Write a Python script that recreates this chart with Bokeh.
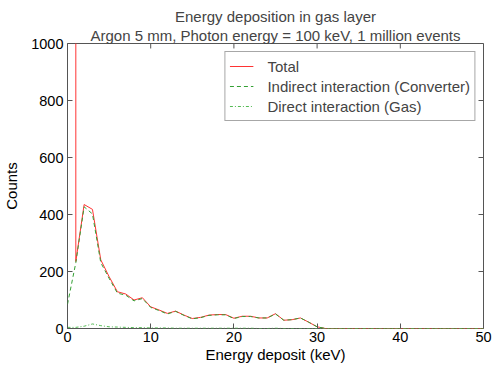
from bokeh.plotting import figure
from bokeh.models import Range1d, Title, FixedTicker
from bokeh.embed import file_html
from bokeh.resources import INLINE

energy = list(range(0, 51))
total = [995000, 235, 435, 418, 241, 182, 129, 121, 100, 108, 76, 65, 53, 61, 47, 35, 39, 47, 49, 49,
         36, 43, 43, 37, 37, 52, 29, 31, 37, 22, 6, 0, 0, 0, 0, 0, 0, 0, 0, 0,
         0, 0, 0, 0, 0, 0, 0, 0, 0, 0, 0]
indirect = [85, 231, 427, 402, 231, 176, 124, 117, 97, 105, 74, 63, 51, 60, 46, 34, 38, 46, 48, 48,
            35, 42, 42, 37, 37, 51, 29, 31, 37, 22, 6, 0, 0, 0, 0, 0, 0, 0, 0, 0,
            0, 0, 0, 0, 0, 0, 0, 0, 0, 0, 0]
gas = [4, 4, 8, 16, 10, 6, 5, 4, 3, 3, 2, 2, 2, 1, 1, 1, 1, 1, 1, 1,
       1, 1, 1, 0, 0, 1, 0, 0, 0, 0, 0, 0, 0, 0, 0, 0, 0, 0, 0, 0,
       0, 0, 0, 0, 0, 0, 0, 0, 0, 0, 0]
x_ticks = [0, 10, 20, 30, 40, 50]
y_ticks = [0, 200, 400, 600, 800, 1000]
title1 = "Energy deposition in gas layer"
title2 = "Argon 5 mm, Photon energy = 100 keV, 1 million events"

FONT = "Liberation Sans"
FRAME = "#555555"
X_MAX, Y_MAX = 50, 1000

p = figure(width=494, height=365, output_backend="svg", toolbar_location=None,
           x_range=Range1d(0, X_MAX), y_range=Range1d(0, Y_MAX),
           min_border_left=67, min_border_right=11, min_border_top=43, min_border_bottom=10)
p.title = None
p.outline_line_color = FRAME
p.outline_line_width = 1
p.xgrid.visible = False
p.ygrid.visible = False

for ax in [p.xaxis[0], p.yaxis[0]]:
    ax.major_tick_in = 5
    ax.major_tick_out = 0
    ax.minor_tick_line_color = None
    ax.axis_line_color = None
    ax.major_label_text_font = FONT
    ax.major_label_text_font_size = "14.5px"
    ax.major_label_text_color = "#000000"
    ax.axis_label_text_font = FONT
    ax.axis_label_text_font_size = "15px"
    ax.axis_label_text_font_style = "normal"
    ax.axis_label_text_color = "#000000"
    ax.major_tick_line_color = FRAME

p.xaxis.ticker = FixedTicker(ticks=x_ticks)
p.yaxis.ticker = FixedTicker(ticks=y_ticks)
p.xaxis.axis_label = "Energy deposit (keV)"
p.yaxis.axis_label = "Counts"
p.xaxis.major_label_standoff = 3
p.yaxis.major_label_standoff = 4
p.xaxis.axis_label_standoff = 1
p.yaxis.axis_label_standoff = 8

t2 = Title(text=title2, align="center", text_font=FONT, text_font_size="15px",
           text_font_style="normal", standoff=0)
t1 = Title(text=title1, align="center", text_font=FONT, text_font_size="15px",
           text_font_style="normal", standoff=0)
p.add_layout(t2, "above")
p.add_layout(t1, "above")

# inward ticks on the right and top edges
tick_len_x = 5 / 8.32
tick_len_y = 5 / 0.286
p.segment(x0=[X_MAX] * len(y_ticks), y0=y_ticks, x1=[X_MAX - tick_len_x] * len(y_ticks), y1=y_ticks,
          line_color="#565656", line_width=1)
p.segment(x0=x_ticks, y0=[Y_MAX] * len(x_ticks), x1=x_ticks, y1=[Y_MAX - tick_len_y] * len(x_ticks),
          line_color="#565656", line_width=1)

p.line(energy, total, line_color="#ff3333", line_width=1, legend_label="Total")
p.line(energy, indirect, line_color="#33a033", line_width=1, line_dash="4 3",
       legend_label="Indirect interaction (Converter)")
p.line(energy, gas, line_color="#55bb55", line_width=1, line_dash="3 2 1 2",
       legend_label="Direct interaction (Gas)")

lg = p.legend[0]
lg.location = "top_right"
lg.label_text_font = FONT
lg.label_text_font_size = "15px"
lg.glyph_width = 24
lg.glyph_height = 20
lg.label_height = 20
lg.spacing = 0
lg.padding = 4
lg.margin = 8
lg.border_line_color = "#505050"
lg.label_standoff = 14

open("out.html", "w").write(file_html(p, INLINE))
